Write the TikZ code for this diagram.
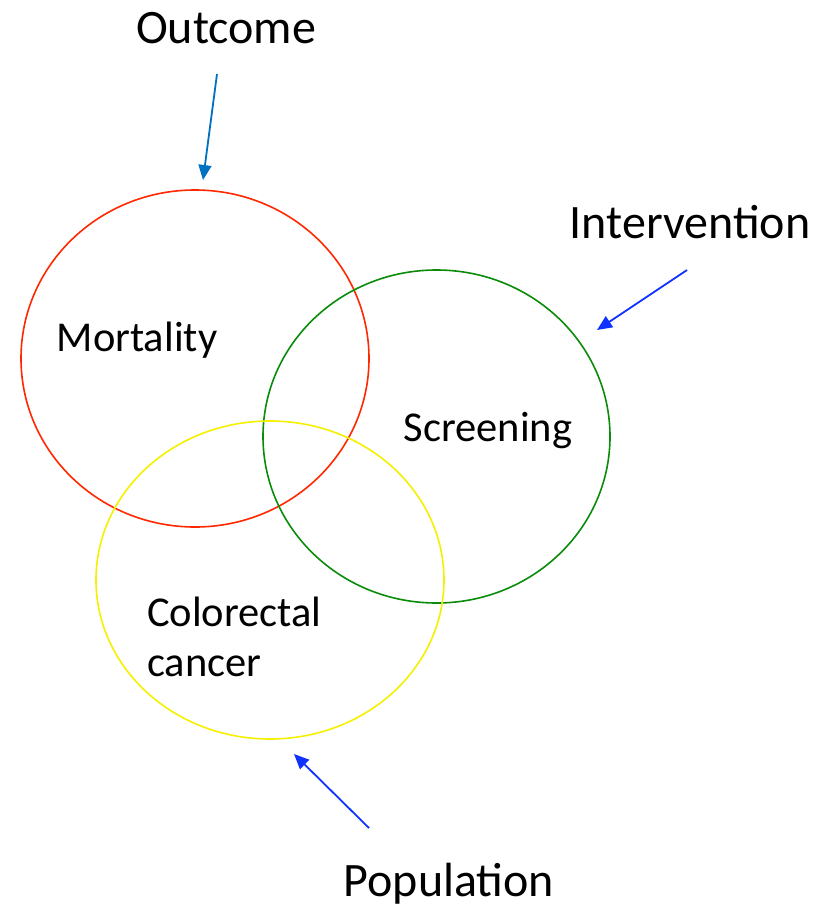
\documentclass[tikz,border=0pt]{standalone}
\usepackage{fontspec}
\setmainfont{Carlito}
\usetikzlibrary{arrows.meta}
\begin{document}
\begin{tikzpicture}[x=1pt,y=-1pt,
  big/.style={font=\fontsize{48}{54}\selectfont, inner sep=0pt},
  inner/.style={font=\fontsize{42.5}{50}\selectfont, inner sep=0pt, align=left},
  arr/.style={line width=1.8pt, -{Triangle[length=15pt,width=13pt]}},
  ring/.style={line width=1.6pt}]
\useasboundingbox (0,0) rectangle (829,910);
\definecolor{oblue}{RGB}{0,112,192}
\definecolor{ablue}{RGB}{16,50,255}
\definecolor{gred}{RGB}{255,40,0}
\definecolor{ggreen}{RGB}{10,140,10}
\definecolor{gyellow}{RGB}{245,240,0}
\draw[ring, gred] (195,358.5) ellipse [x radius=174, y radius=168.5];
\draw[ring, ggreen] (436.5,436.5) ellipse [x radius=173.5, y radius=166.5];
\draw[ring, gyellow] (270,580) ellipse [x radius=174, y radius=159];
\node[big] (outcome) at (226,28) {Outcome};
\node[big] (interv) at (690,222) {Intervention};
\node[big] (pop) at (449,884) {Population};
\node[inner] (mort) at (137,340) {Mortality};
\node[inner] (scr) at (488,431) {Screening};
\node[inner, anchor=west] (crc) at (147,637) {Colorectal\\cancer};
\coordinate (o1) at (217,74); \coordinate (o2) at (203,180);
\coordinate (i1) at (687,270); \coordinate (i2) at (597,330);
\coordinate (p1) at (369,828); \coordinate (p2) at (294,754);
\draw[arr, oblue] (o1) -- (o2);
\draw[arr, ablue] (i1) -- (i2);
\draw[arr, ablue] (p1) -- (p2);
\end{tikzpicture}
\end{document}
